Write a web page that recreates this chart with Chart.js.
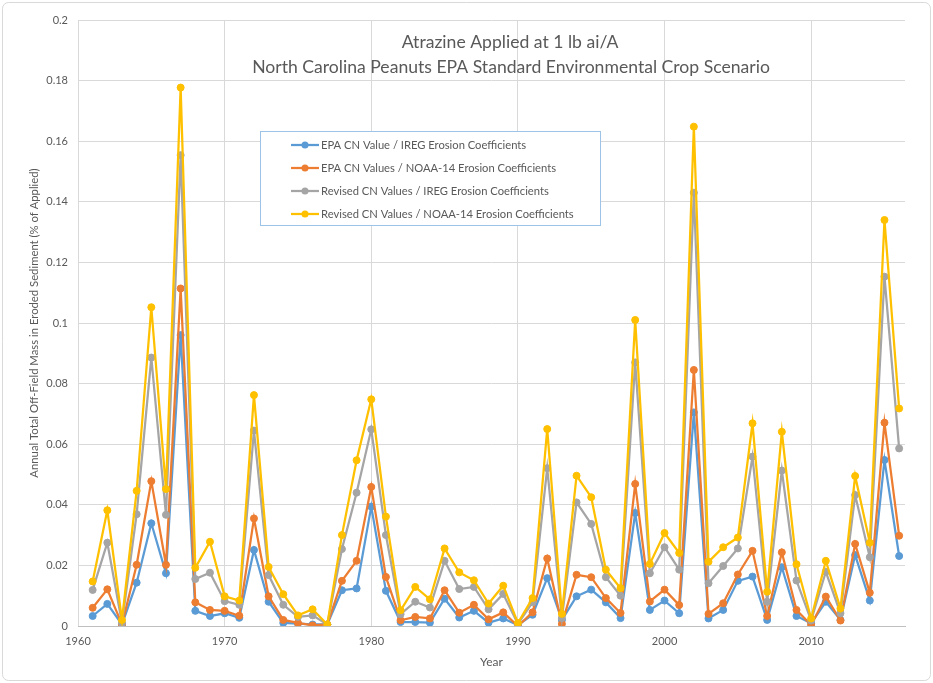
<!DOCTYPE html>
<html>
<head>
<meta charset="utf-8">
<script src="https://cdn.jsdelivr.net/npm/chart.js@4.4.1/dist/chart.umd.min.js"></script>
<style>
html,body{margin:0;padding:0;background:#fff;}
#wrap{width:933px;height:683px;position:relative;}
</style>
</head>
<body>
<div id="wrap"><canvas id="c" width="933" height="683"></canvas></div>
<script>
const titleLines = ["Atrazine Applied at 1 lb ai/A", "North Carolina Peanuts EPA Standard Environmental Crop Scenario"];
const xTitle = "Year";
const yTitle = "Annual Total Off-Field Mass in Eroded Sediment (% of Applied)";
const seriesNames = [
  "EPA CN Value / IREG Erosion Coefficients",
  "EPA CN Values / NOAA-14 Erosion Coefficients",
  "Revised CN Values / IREG Erosion Coefficients",
  "Revised CN Values / NOAA-14 Erosion Coefficients"
];
const seriesColors = ["#5B9BD5", "#ED7D31", "#A5A5A5", "#FFC000"];

const years = [1961,1962,1963,1964,1965,1966,1967,1968,1969,1970,
  1971,1972,1973,1974,1975,1976,1977,1978,1979,1980,
  1981,1982,1983,1984,1985,1986,1987,1988,1989,1990,
  1991,1992,1993,1994,1995,1996,1997,1998,1999,2000,
  2001,2002,2003,2004,2005,2006,2007,2008,2009,2010,
  2011,2012,2013,2014,2015,2016];

const epaIreg = [0.0033,0.0073,0.0005,0.0143,0.0339,0.0174,0.0960,0.0050,0.0033,0.0042,
  0.0027,0.0251,0.0080,0.0010,0.0008,0.0005,0.0005,0.0118,0.0124,0.0394,
  0.0116,0.0013,0.0013,0.0011,0.0090,0.0028,0.0050,0.0011,0.0025,0.0003,
  0.0037,0.0158,0.0020,0.0098,0.0120,0.0078,0.0026,0.0373,0.0053,0.0084,
  0.0042,0.0705,0.0025,0.0053,0.0149,0.0163,0.0020,0.0194,0.0033,0.0009,
  0.0080,0.0020,0.0234,0.0084,0.0548,0.0231];

const epaNoaa = [0.0060,0.0121,0.0005,0.0202,0.0478,0.0202,0.1114,0.0078,0.0053,0.0050,
  0.0034,0.0355,0.0098,0.0020,0.0010,0.0002,0.0005,0.0149,0.0215,0.0459,
  0.0162,0.0019,0.0030,0.0025,0.0118,0.0044,0.0070,0.0022,0.0045,0.0000,
  0.0045,0.0223,0.0007,0.0169,0.0161,0.0092,0.0043,0.0469,0.0081,0.0120,
  0.0069,0.0845,0.0040,0.0075,0.0170,0.0248,0.0033,0.0243,0.0053,0.0003,
  0.0097,0.0018,0.0271,0.0110,0.0671,0.0298];

const revIreg = [0.0119,0.0275,0.0010,0.0369,0.0886,0.0367,0.1554,0.0155,0.0176,0.0082,
  0.0070,0.0645,0.0168,0.0070,0.0030,0.0035,0.0005,0.0254,0.0440,0.0649,
  0.0300,0.0039,0.0080,0.0061,0.0215,0.0122,0.0129,0.0055,0.0106,0.0007,
  0.0078,0.0521,0.0026,0.0408,0.0337,0.0161,0.0100,0.0870,0.0174,0.0260,
  0.0186,0.1430,0.0141,0.0198,0.0256,0.0559,0.0080,0.0513,0.0150,0.0018,
  0.0179,0.0042,0.0432,0.0227,0.1153,0.0586];

const revNoaa = [0.0147,0.0382,0.0020,0.0446,0.1052,0.0452,0.1777,0.0192,0.0278,0.0098,
  0.0084,0.0762,0.0195,0.0105,0.0035,0.0055,0.0005,0.0300,0.0547,0.0748,
  0.0361,0.0052,0.0129,0.0088,0.0256,0.0177,0.0151,0.0074,0.0133,0.0010,
  0.0092,0.0650,0.0040,0.0496,0.0425,0.0186,0.0125,0.1010,0.0205,0.0307,
  0.0241,0.1648,0.0212,0.0260,0.0292,0.0669,0.0113,0.0641,0.0204,0.0025,
  0.0215,0.0058,0.0495,0.0275,0.1340,0.0718];

const xTickValues = [1960,1970,1980,1990,2000,2010];
const yTickLabels = ["0","0.02","0.04","0.06","0.08","0.1","0.12","0.14","0.16","0.18","0.2"];

const allSeries = [epaIreg, epaNoaa, revIreg, revNoaa];
const FONT = "Lato, 'Open Sans', 'DejaVu Sans', sans-serif";
const TXT = "#595959";

const datasets = allSeries.map((vals, i) => ({
  label: seriesNames[i],
  data: years.map((y, k) => ({x: y, y: vals[k]})),
  borderColor: seriesColors[i],
  backgroundColor: seriesColors[i],
  pointBackgroundColor: seriesColors[i],
  pointBorderColor: seriesColors[i],
  borderWidth: 2.25,
  pointRadius: 3.5,
  pointBorderWidth: 1,
  tension: 0,
  order: 4 - i
}));

const decor = {
  id: 'decor',
  beforeDraw(chart) {
    const ctx = chart.ctx;
    ctx.save();
    ctx.fillStyle = '#fff';
    ctx.fillRect(0, 0, chart.width, chart.height);
    ctx.strokeStyle = '#d9d9d9';
    ctx.lineWidth = 1;
    ctx.beginPath();
    if (ctx.roundRect) ctx.roundRect(2.5, 2.5, chart.width - 5, chart.height - 5, 6);
    else ctx.rect(2.5, 2.5, chart.width - 5, chart.height - 5);
    ctx.stroke();
    ctx.restore();
  },
  afterDatasetsDraw(chart) {
    const ctx = chart.ctx;
    ctx.save();
    // title
    ctx.fillStyle = TXT;
    ctx.textAlign = 'center';
    ctx.textBaseline = 'middle';
    ctx.font = "17.6px " + FONT;
    ctx.fillText(titleLines[0], 510, 42);
    ctx.fillText(titleLines[1], 511, 67);
    // legend
    const bx = 260.5, by = 131.5, bw = 340, bh = 94;
    ctx.fillStyle = '#fff';
    ctx.fillRect(bx, by, bw, bh);
    ctx.strokeStyle = '#9DC3E6';
    ctx.lineWidth = 1;
    ctx.strokeRect(bx, by, bw, bh);
    ctx.font = "11.2px " + FONT;
    ctx.textAlign = 'left';
    const rows = [145, 168, 191, 214];
    for (let i = 0; i < 4; i++) {
      const yy = rows[i];
      ctx.strokeStyle = seriesColors[i];
      ctx.lineWidth = 2.25;
      ctx.beginPath();
      ctx.moveTo(291, yy); ctx.lineTo(319, yy);
      ctx.stroke();
      ctx.fillStyle = seriesColors[i];
      ctx.beginPath();
      ctx.arc(305, yy, 3.5, 0, Math.PI * 2);
      ctx.fill();
      ctx.fillStyle = TXT;
      ctx.fillText(seriesNames[i], 321, yy + 0.5);
    }
    ctx.restore();
  }
};

new Chart(document.getElementById('c'), {
  type: 'line',
  data: { datasets },
  options: {
    responsive: false,
    devicePixelRatio: 1,
    animation: false,
    layout: { padding: { top: 20, right: 28, left: 0, bottom: 0 } },
    plugins: { legend: { display: false }, tooltip: { enabled: false }, title: { display: false } },
    scales: {
      x: {
        type: 'linear',
        min: 1960,
        max: 2016.4,
        afterBuildTicks(axis) { axis.ticks = xTickValues.map(v => ({value: v})); },
        afterFit(axis) { axis.height = 57; },
        grid: { color: '#d9d9d9', drawTicks: false, lineWidth: 1 },
        border: { display: true, color: '#bfbfbf' },
        ticks: { padding: 9, color: TXT, font: { family: FONT, size: 11 }, maxRotation: 0, autoSkip: false,
          callback: v => String(v) },
        title: { display: true, text: xTitle, color: TXT, font: { family: FONT, size: 12 }, padding: { top: 0, bottom: 14 } }
      },
      y: {
        min: 0,
        max: 0.2,
        afterBuildTicks(axis) { axis.ticks = yTickLabels.map(s => ({value: parseFloat(s)})); },
        afterFit(axis) { axis.width = 78; },
        grid: { color: '#d9d9d9', drawTicks: false, lineWidth: 1 },
        border: { display: false },
        ticks: { padding: 10, color: TXT, font: { family: FONT, size: 11 },
          callback: (v, idx) => yTickLabels[idx] },
        title: { display: true, text: yTitle, color: TXT, font: { family: FONT, size: 11.3 }, padding: { top: 28, bottom: 0 } }
      }
    }
  },
  plugins: [decor]
});
</script>
</body>
</html>
